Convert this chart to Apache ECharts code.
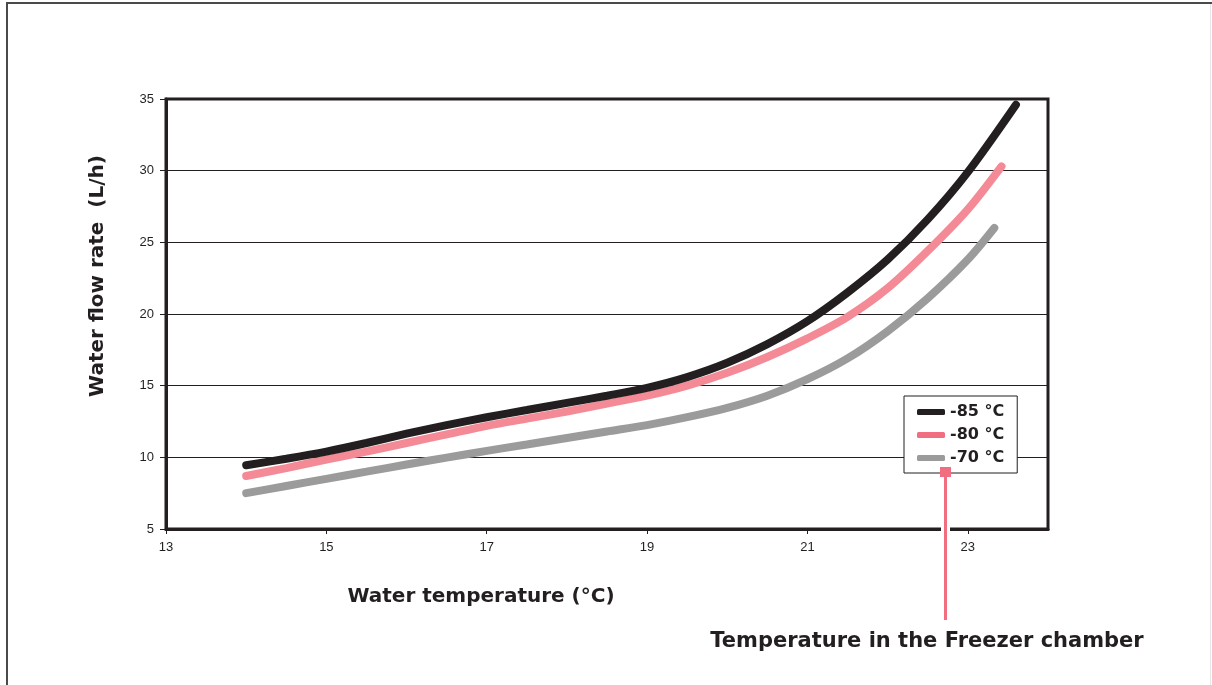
<!DOCTYPE html>
<html>
<head>
<meta charset="utf-8">
<script src="https://cdn.jsdelivr.net/npm/echarts@6/dist/echarts.min.js"></script>
<style>
  html, body { margin: 0; padding: 0; background: #fff; }
  #chart { width: 1212px; height: 685px; }
</style>
</head>
<body>
<div id="chart"></div>
<script>
(function() {
  var ink = '#231f20';
  var pink = '#f48a96';
  var pinkDark = '#f06e80';
  var grey = '#9b9b9b';

  var xTicks = [13, 15, 17, 19, 21, 23];
  var seriesNames = ['-85 °C', '-80 °C', '-70 °C'];

  // water temperature (°C), flow rate (L/h)
  var temp85 = [14, 14.5, 15, 15.5, 16, 16.5, 17, 17.5, 18, 18.5, 19, 19.5, 20, 20.5, 21, 21.5, 22, 22.5, 23, 23.6];
  var flow85 = [9.45, 9.9, 10.4, 11.0, 11.65, 12.25, 12.8, 13.3, 13.8, 14.3, 14.85, 15.6, 16.6, 17.9, 19.5, 21.5, 23.8, 26.6, 29.9, 34.6];
  var temp80 = [14, 14.5, 15, 15.5, 16, 16.5, 17, 17.5, 18, 18.5, 19, 19.5, 20, 20.5, 21, 21.5, 22, 22.5, 23, 23.42];
  var flow80 = [8.7, 9.25, 9.85, 10.4, 11.0, 11.6, 12.2, 12.7, 13.2, 13.75, 14.3, 15.0, 15.9, 17.0, 18.3, 19.8, 21.8, 24.4, 27.3, 30.3];
  var temp70 = [14, 14.5, 15, 15.5, 16, 16.5, 17, 17.5, 18, 18.5, 19, 19.5, 20, 20.5, 21, 21.5, 22, 22.5, 23, 23.33];
  var flow70 = [7.5, 8.0, 8.5, 9.0, 9.5, 9.98, 10.45, 10.9, 11.35, 11.8, 12.25, 12.8, 13.45, 14.3, 15.45, 16.9, 18.8, 21.1, 23.8, 26.0];

  function pairs(xs, ys) {
    return xs.map(function(x, i) { return [x, ys[i]]; });
  }

  var titleFont = '"DejaVu Sans", "Noto Sans", sans-serif';
  var labelFont = '"Liberation Sans", Arial, sans-serif';

  function curve(name, data, color) {
    return {
      name: name,
      type: 'line',
      smooth: 0.3,
      showSymbol: false,
      data: data,
      lineStyle: { color: color, width: 8, cap: 'round' },
      itemStyle: { color: color },
      z: 3
    };
  }

  var chart = echarts.init(document.getElementById('chart'), null, { renderer: 'canvas' });
  chart.setOption({
    animation: false,
    backgroundColor: '#fff',
    grid: {
      left: 166, right: 164, top: 99, bottom: 156,
      show: true, borderColor: ink, borderWidth: 3, backgroundColor: 'transparent'
    },
    legend: {
      orient: 'vertical',
      left: 904, top: 396,
      padding: [7, 13, 6, 13],
      itemGap: 5,
      itemWidth: 28, itemHeight: 6,
      icon: 'roundRect',
      backgroundColor: '#fff',
      borderColor: ink, borderWidth: 1,
      textStyle: { color: ink, fontFamily: titleFont, fontWeight: 'bold', fontSize: 16, lineHeight: 18 },
      data: [
        { name: seriesNames[0], itemStyle: { color: ink } },
        { name: seriesNames[1], itemStyle: { color: pinkDark } },
        { name: seriesNames[2], itemStyle: { color: grey } }
      ],
      z: 10
    },
    xAxis: {
      type: 'value',
      min: 13, max: 24,
      axisLine: { show: true, lineStyle: { color: ink, width: 3 } },
      axisTick: { show: true, length: 5, customValues: xTicks, lineStyle: { color: ink, width: 1 } },
      axisLabel: { customValues: xTicks, color: ink, fontFamily: labelFont, fontSize: 13, margin: 12 },
      splitLine: { show: false }
    },
    yAxis: {
      type: 'value',
      min: 5, max: 35, interval: 5,
      axisLine: { show: true, lineStyle: { color: ink, width: 3 } },
      axisTick: { show: true, length: 6, lineStyle: { color: ink, width: 1 } },
      axisLabel: { color: ink, fontFamily: labelFont, fontSize: 13, margin: 12 },
      splitLine: { show: true, lineStyle: { color: ink, width: 1 } }
    },
    series: [
      curve(seriesNames[2], pairs(temp70, flow70), grey),
      curve(seriesNames[1], pairs(temp80, flow80), pink),
      curve(seriesNames[0], pairs(temp85, flow85), ink)
    ],
    graphic: [
      // page frame
      { type: 'line', shape: { x1: 6, y1: 3, x2: 1212, y2: 3 }, style: { stroke: '#4a4a4a', lineWidth: 2 } },
      { type: 'line', shape: { x1: 7, y1: 3, x2: 7, y2: 685 }, style: { stroke: '#4a4a4a', lineWidth: 2 } },
      { type: 'line', shape: { x1: 1210.5, y1: 4, x2: 1210.5, y2: 685 }, style: { stroke: '#e6e6e6', lineWidth: 1 } },
      // axis titles
      {
        type: 'text', x: 481, y: 597,
        style: { text: 'Water temperature (°C)', fill: ink, font: 'bold 20px ' + titleFont, align: 'center', verticalAlign: 'middle' }
      },
      {
        type: 'text', x: 98, y: 276, rotation: Math.PI / 2,
        style: { text: 'Water flow rate  (L/h)', fill: ink, font: 'bold 20px ' + titleFont, align: 'center', verticalAlign: 'middle' }
      },
      // legend callout
      { type: 'rect', shape: { x: 941, y: 524, width: 9, height: 10 }, style: { fill: '#fff' }, z: 20 },
      { type: 'line', shape: { x1: 945.5, y1: 474, x2: 945.5, y2: 620 }, style: { stroke: pinkDark, lineWidth: 3 }, z: 21 },
      { type: 'rect', shape: { x: 940, y: 467, width: 11, height: 10 }, style: { fill: pinkDark }, z: 21 },
      {
        type: 'text', x: 927, y: 642,
        style: { text: 'Temperature in the Freezer chamber', fill: ink, font: 'bold 21px ' + titleFont, align: 'center', verticalAlign: 'middle' }
      }
    ]
  });
  window.addEventListener('resize', function() { chart.resize(); });
})();
</script>
</body>
</html>
